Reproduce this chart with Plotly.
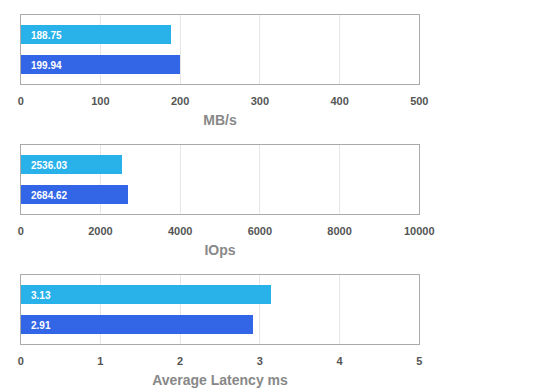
import plotly.graph_objects as go

# Data
metrics = ["MB/s", "IOps", "Average Latency ms"]
series_a = [188.75, 2536.03, 3.13]   # light blue (top bar)
series_b = [199.94, 2684.62, 2.91]   # dark blue (bottom bar)
axis_max = [500, 10000, 5]
tick_step = [100, 2000, 1]

color_a = "#29b1ea"
color_b = "#3366e6"
FONT = "Liberation Sans, Arial, Helvetica, sans-serif"

W, H = 560, 390
OFF = 8  # page body margin
x_dom = [(20.7 - OFF) / W, (419.3 - OFF) / W]
panels_px = [(15.3, 84.3), (145.3, 214.3), (275.3, 344.3)]

fig = go.Figure()
for i, name in enumerate(metrics):
    n = i + 1
    xa = "x" if n == 1 else f"x{n}"
    ya = "y" if n == 1 else f"y{n}"
    vals = [series_b[i], series_a[i]]
    cols = [color_b, color_a]
    fig.add_trace(go.Bar(
        y=[0, 1], x=vals, orientation="h",
        marker=dict(color=cols, line=dict(width=0)),
        width=0.65, xaxis=xa, yaxis=ya, showlegend=False,
        hoverinfo="skip",
    ))
    for yy, v in zip([0, 1], vals):
        fig.add_annotation(
            x=0, y=yy, xref=xa, yref=ya, text=f"{v:.2f}",
            showarrow=False, xanchor="left", yanchor="middle", xshift=8,
            font=dict(family=FONT, size=10, color="white", weight="bold"),
        )
    top, bot = panels_px[i]
    ykey = "yaxis" if n == 1 else f"yaxis{n}"
    xkey = "xaxis" if n == 1 else f"xaxis{n}"
    fig.layout[ykey] = dict(
        domain=[1 - (bot - OFF) / H, 1 - (top - OFF) / H], range=[-0.643, 1.657],
        showticklabels=False, showgrid=False, zeroline=False,
        showline=True, linecolor="#aaaaaa", linewidth=1, mirror=True,
        anchor=xa, fixedrange=True, automargin=False,
    )
    fig.layout[xkey] = dict(
        domain=x_dom, range=[0, axis_max[i]], dtick=tick_step[i], tick0=0,
        tickformat="d",
        showgrid=True, gridcolor="#e6e6e6", gridwidth=1, zeroline=False,
        showline=True, linecolor="#aaaaaa", linewidth=1, mirror=True,
        ticks="", ticklabelstandoff=6,
        tickfont=dict(family=FONT, size=11, color="#555555", weight="bold"),
        title=dict(text=name, standoff=9,
                   font=dict(family=FONT, size=14, color="#888888", weight="bold")),
        anchor=ya, fixedrange=True, automargin=False,
    )

fig.update_layout(
    width=W, height=H, margin=dict(l=0, r=0, t=0, b=0),
    plot_bgcolor="white", paper_bgcolor="white", bargap=0,
)
fig.write_html("out.html")
